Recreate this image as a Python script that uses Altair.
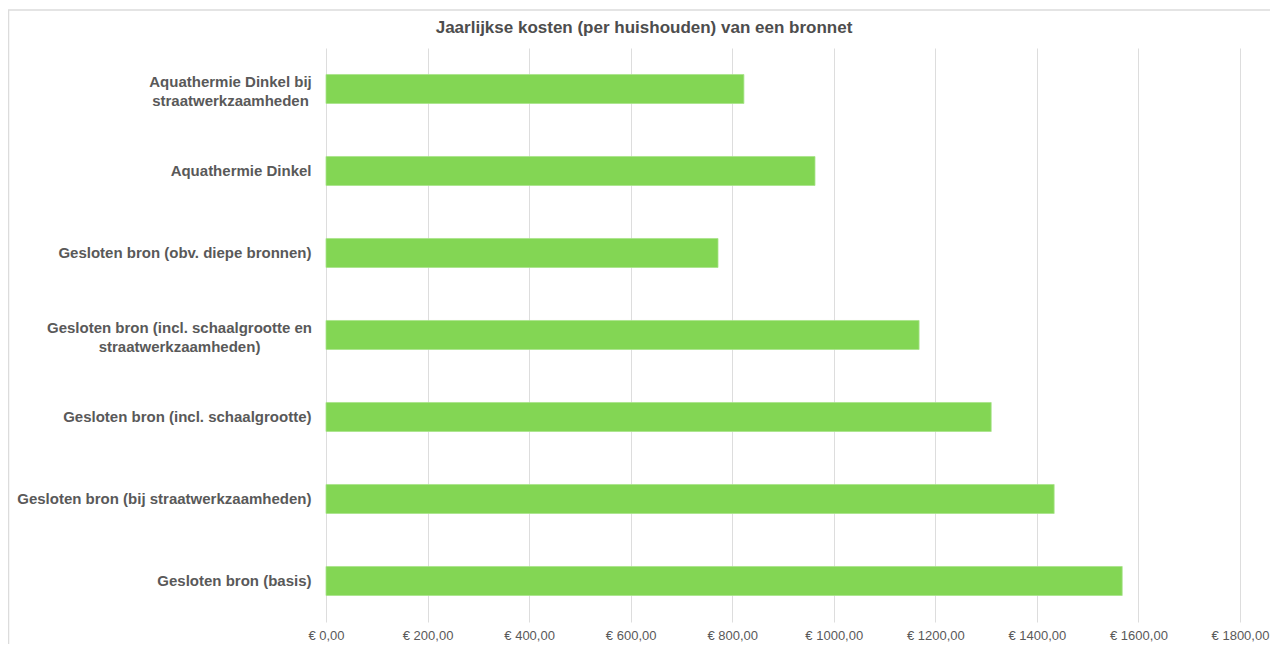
import altair as alt
import pandas as pd

categories = [
    "Aquathermie Dinkel bij|straatwerkzaamheden",
    "Aquathermie Dinkel",
    "Gesloten bron (obv. diepe bronnen)",
    "Gesloten bron (incl. schaalgrootte en|straatwerkzaamheden)",
    "Gesloten bron (incl. schaalgrootte)",
    "Gesloten bron (bij straatwerkzaamheden)",
    "Gesloten bron (basis)",
]
values = [823, 963, 772, 1168, 1310, 1434, 1568]
x_ticks = [0, 200, 400, 600, 800, 1000, 1200, 1400, 1600, 1800]
title_text = ["Jaarlijkse kosten (per huishouden) van een bronnet"]

df = pd.DataFrame({"categorie": categories, "kosten": values})

W, H = 914, 574
PAD_L, PAD_T = 318, 40

multi = "indexof(datum.value, '|') >= 0"
first_multi = "indexof(datum.value, 'Aquathermie Dinkel bij') >= 0"
second_multi = "indexof(datum.value, 'schaalgrootte en') >= 0"

bars = alt.Chart(df).mark_bar(color="#83D654", stroke="#A8E38A", strokeWidth=0.8).encode(
    y=alt.Y(
        "categorie:N",
        sort=categories,
        title=None,
        scale=alt.Scale(paddingInner=0.646, paddingOuter=0.323),
        axis=alt.Axis(
            labelExpr="split(datum.label, '|')",
            labelFont="Liberation Sans",
            labelFontWeight="bold",
            labelFontSize=15,
            labelColor="#595959",
            labelLineHeight=19,
            labelLimit=400,
            labelAlign={"condition": {"test": multi, "value": "center"}, "value": "right"},
            labelPadding={
                "condition": [
                    {"test": first_multi, "value": 96},
                    {"test": second_multi, "value": 147},
                ],
                "value": 15,
            },
            labelOffset={"condition": {"test": multi, "value": -7}, "value": 0},
            ticks=False,
            domain=False,
            grid=False,
        ),
    ),
    x=alt.X(
        "kosten:Q",
        title=None,
        scale=alt.Scale(domain=[0, 1800], nice=False),
        axis=alt.Axis(
            values=x_ticks,
            labelExpr="'€ ' + replace(format(datum.value, '.2f'), '.', ',')",
            labelFont="Liberation Sans",
            labelFontSize=13,
            labelColor="#595959",
            labelPadding=7,
            labelFlush=False,
            labelOverlap=False,
            ticks=False,
            domain=False,
            grid=True,
            gridColor="#DDDDDD",
            gridWidth=1,
        ),
    ),
)

frame = alt.Chart(pd.DataFrame({"a": [0]})).mark_rect(
    fill="transparent", stroke="#DCDCDC", strokeWidth=1.5
).encode(
    x=alt.value(-PAD_L + 0.5),
    x2=alt.value(W + 200),
    y=alt.value(-PAD_T + 2),
    y2=alt.value(H + 200),
)

title = alt.Chart(pd.DataFrame({"t": title_text})).mark_text(
    font="Liberation Sans",
    fontSize=17,
    fontWeight="bold",
    color="#4D4D4D",
    align="center",
    baseline="middle",
).encode(
    text="t:N",
    x=alt.value(644 - 326),
    y=alt.value(28 - 48),
)

chart = alt.layer(frame, bars, title).properties(
    width=W,
    height=H,
    autosize=alt.AutoSizeParams(type="none"),
    padding={"left": PAD_L, "top": PAD_T, "right": 30, "bottom": 22},
).configure_view(stroke=None)

chart.save("out.html", embed_options={"renderer": "svg", "actions": False})
